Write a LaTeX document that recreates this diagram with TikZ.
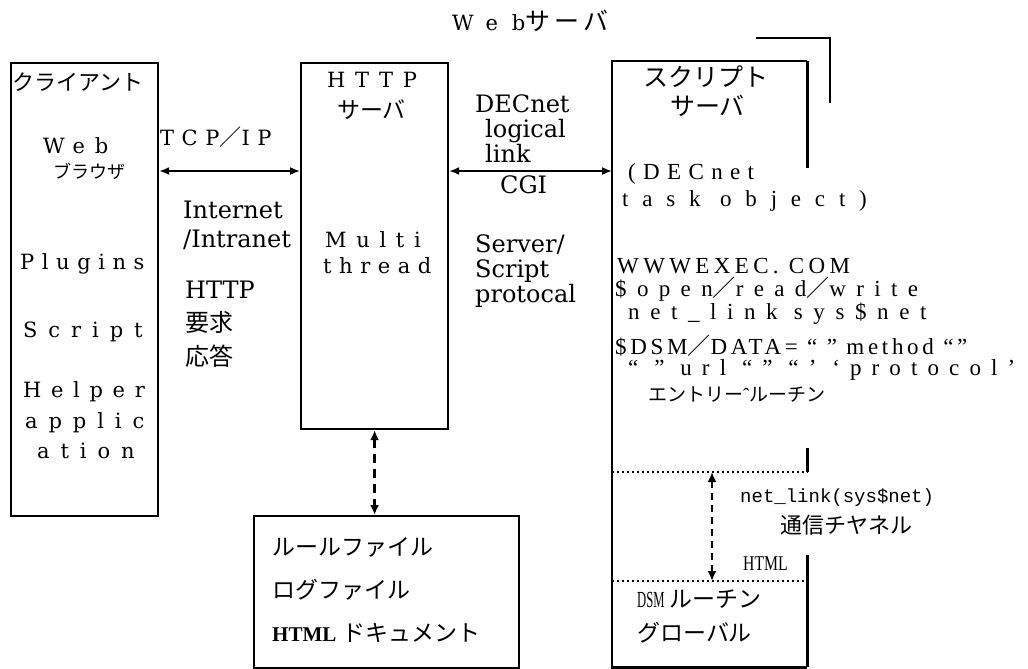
\documentclass[tikz,border=0pt]{standalone}
\usepackage{fontspec}
\setmainfont{Liberation Serif}
\newfontfamily\jp{Noto Sans CJK JP}
\newfontfamily\dvs{DejaVu Serif}
\newfontfamily\dsA{DejaVu Serif}[LetterSpace=36]
\newfontfamily\dsB{DejaVu Serif}[LetterSpace=46]
\newfontfamily\dsC{DejaVu Serif}[LetterSpace=52]
\newfontfamily\dsT{DejaVu Serif}[LetterSpace=65]
\newfontfamily\monof{Liberation Mono}
\newfontfamily\narrowf{Liberation Serif}[FakeStretch=0.75]
\newfontfamily\narrowg{Liberation Serif}[FakeStretch=0.55]
\newfontfamily\lser{Liberation Serif}
\usetikzlibrary{arrows.meta}
\newcommand\myLS[2]{\fontsize{#1}{#1}\selectfont\addfontfeature{LetterSpace=#2}}
\newcommand\myJP[1]{\jp\fontsize{#1}{#1}\selectfont}
\newcommand\myDV[1]{\dvs\fontsize{#1}{#1}\selectfont}
\newcommand\szA{\fontsize{21}{21}\selectfont}
\begin{document}
\begin{tikzpicture}[x=1pt,y=-1pt,
  pbox/.style={draw, line width=2.2pt, inner sep=0pt, anchor=north west},
  lbl/.style={inner sep=0pt, anchor=base west},
  biarrow/.style={{Latex[length=10pt,width=8pt]}-{Latex[length=10pt,width=8pt]}, line width=1.6pt},
  dasharrow/.style={{Latex[length=10pt,width=9pt]}-{Latex[length=10pt,width=9pt]}, line width=2.4pt, dash pattern=on 9pt off 6pt},
  dotline/.style={line width=1.4pt, dash pattern=on 2pt off 3pt},
  wall/.style={line width=2.4pt},
]
\fill[white] (0,0) rectangle (1028,669);
\useasboundingbox (0,0) rectangle (1028,669);

% title
\node[lbl] (title) at (452,31) {\dsT\szA Web{\myJP{25}\addfontfeature{LetterSpace=17}サーバ}};

% boxes
\node[pbox, minimum width=147pt, minimum height=453pt] (client) at (10,62) {};
\node[pbox, minimum width=147pt, minimum height=366pt] (http) at (300,62) {};
\node[pbox, minimum width=265pt, minimum height=152pt] (rules) at (253,515) {};
\node[inner sep=0pt, anchor=north west, minimum width=195pt, minimum height=606pt] (script) at (612,61) {};

% script server walls
\coordinate (d1) at (712,472);
\coordinate (d2) at (712,581);
\draw[wall] (script.north east) -- (script.north west) -- (script.south west) -- (script.south east);
\draw[wall] (script.north east) -- ++(0,107);
\draw[wall] (script.east |- d1) -- ++(0,-24);
\draw[wall] (script.south east) -- ++(0,-112);
\draw[dotline] (script.west |- d1) -- (script.east |- d1);
\draw[dotline] (script.west |- d2) -- (script.east |- d2);
\coordinate (bf1) at (756,38);
\coordinate (bf2) at (830,103);
\draw[wall] (bf1) -- (bf1 -| bf2) -- (bf2);

% connectors
\coordinate (row) at (0,171);
\draw[biarrow] (client.east |- row) -- (http.west |- row);
\draw[biarrow] (http.east |- row) -- (script.west |- row);
\draw[dasharrow] (http.south) -- (http.south |- rules.north);
\draw[dasharrow, line width=2pt, dash pattern=on 7pt off 5pt] (d1) -- (d2);

% client texts
\node[lbl] (c1) at (12,90) {\myJP{22}クライアント};
\node[lbl] (c2) at (43,153) {\dsB\szA Web};
\node[lbl] (c3) at (53,178) {\myJP{18}ブラウザ};
\node[lbl] (c4) at (20,269) {\dsA\szA Plugins};
\node[lbl] (c5) at (23,337) {\dsC\szA Script};
\node[lbl] (c6) at (23,397) {\dsB\szA Helper};
\node[lbl] (c7) at (25,428) {\dsC\szA applic};
\node[lbl] (c8) at (37,458) {\dsC\szA ation};

% between client and http
\node[lbl] (t1) at (160,145) {\dsA\szA TCP{\myJP{22}／}IP};
\node[lbl] (t2) at (183,218) {\myDV{24}Internet};
\node[lbl] (t3) at (183,247) {\myDV{24}/Intranet};
\node[lbl] (t4) at (185,298) {\myDV{24}HTTP};
\node[lbl] (t5) at (185,331) {\myJP{24}要求};
\node[lbl] (t6) at (185,365) {\myJP{24}応答};

% http box texts
\node[lbl] (h1) at (327,88) {\dsB\szA HTTP};
\node[lbl] (h2) at (337,118) {\myJP{23}サーバ};
\node[lbl] (h3) at (325,247) {\dsB\szA Multi};
\node[lbl] (h4) at (323,273) {\dsA\szA thread};

% between http and script
\node[lbl] (g1) at (475,112) {\myDV{24}DECnet};
\node[lbl] (g2) at (485,137) {\myDV{24}logical};
\node[lbl] (g3) at (485,162) {\myDV{24}link};
\node[lbl] (g4) at (500,193) {\myDV{24}CGI};
\node[lbl] (g5) at (475,252) {\myDV{24}Server/};
\node[lbl] (g6) at (475,277) {\myDV{24}Script};
\node[lbl] (g7) at (475,302) {\myDV{24}protocal};

% script server texts
\node[lbl] (s1) at (643,86) {\myJP{25}スクリプト};
\node[lbl] (s2) at (670,115) {\myJP{25}サーバ};
\node[lbl] (s3) at (628,179) {\myLS{23}{32}(DECnet};
\node[lbl] (s4) at (622,206) {\myLS{23}{60}task object)};
\node[lbl] (s5) at (617,273) {\myLS{23}{19}WWWEXEC. COM};
\node[lbl] (s6) at (615,296) {\myLS{23}{45}\$open{\myJP{23}／}read{\myJP{23}／}write};
\node[lbl] (s7) at (628,319) {\myLS{23}{46}net\_link sys\$net};
\node[lbl] (s8) at (615,354) {\myLS{23}{16}\$DSM{\myJP{23}／}DATA= “ ” method “”};
\node[lbl] (s9) at (628,375) {\myLS{23}{44}“ ” url “” “’ ‘protocol’};
\node[lbl] (s10) at (648,401) {\myJP{19}エントリー{\lser ˆ}ルーチン};
\node[lbl] (s11) at (740,502) {\monof\fontsize{19}{19}\selectfont net\_link(sys\$net)};
\node[lbl] (s12) at (780,533) {\myJP{22}通信チヤネル};
\node[lbl] (s13) at (743,570) {\narrowf\fontsize{21}{21}\selectfont HTML};
\node[lbl] (s14) at (637,607) {{\narrowg\fontsize{23}{23}\selectfont DSM}\hspace{5pt}{\myJP{23}ルーチン}};
\node[lbl] (s15) at (637,641) {\myJP{23}グローバル};

% rule box texts
\node[lbl] (r1) at (272,555) {\myJP{23}ルールファイル};
\node[lbl] (r2) at (272,598) {\myJP{23}ログファイル};
\node[lbl] (r3) at (272,641) {{\bfseries\fontsize{21}{21}\selectfont HTML}\hspace{6pt}{\myJP{23}ドキュメント}};
\end{tikzpicture}
\end{document}
